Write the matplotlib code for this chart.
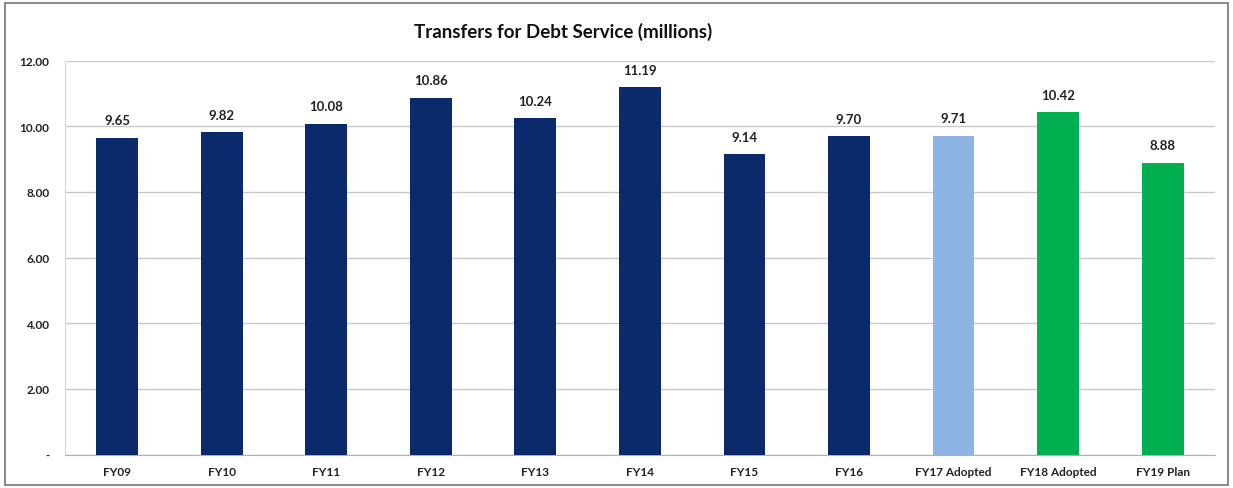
import matplotlib.pyplot as plt
import matplotlib as mpl
from matplotlib.patches import Rectangle

mpl.rcParams["font.family"] = ["Lato", "DejaVu Sans"]

# Debt service transfers by fiscal year
years = ["FY09", "FY10", "FY11", "FY12", "FY13", "FY14", "FY15", "FY16",
         "FY17 Adopted", "FY18 Adopted", "FY19 Plan"]
transfers = [9.65, 9.82, 10.08, 10.86, 10.24, 11.19, 9.14, 9.70, 9.71, 10.42, 8.88]

navy = "#0b2a6c"
light_blue = "#8db4e2"
green = "#00b050"
colors = [navy] * 8 + [light_blue] + [green] * 2

fig = plt.figure(figsize=(12.33, 4.89), dpi=100)
ax = fig.add_axes([0.0525, 0.0685, 0.9329, 0.8057])

x = range(len(years))
bars = ax.bar(x, transfers, width=0.4, color=colors, zorder=3)

for b, v in zip(bars, transfers):
    ax.text(b.get_x() + b.get_width() / 2, v + 0.35, f"{v:.2f}",
            ha="center", va="bottom", fontsize=9.5, fontweight="bold", color="#222222")

ax.set_xlim(-0.5, len(years) - 0.5)
ax.set_ylim(0, 12)
ax.set_yticks([0, 2, 4, 6, 8, 10, 12])
ax.set_yticklabels(["-", "2.00", "4.00", "6.00", "8.00", "10.00", "12.00"])
ax.set_xticks(list(x))
ax.set_xticklabels(years)
for lbl in ax.get_xticklabels() + ax.get_yticklabels():
    lbl.set_fontweight("bold")
    lbl.set_fontsize(8.5)
    lbl.set_color("#222222")

ax.tick_params(axis="x", length=0, pad=8)
ax.tick_params(axis="y", length=0, pad=11)
ax.grid(axis="y", color="#c8c8c8", linewidth=1, zorder=0)
for s in ["top", "right"]:
    ax.spines[s].set_visible(False)
ax.spines["left"].set_color("#d8d8d8")
ax.spines["bottom"].set_color("#b0b0b0")

fig.text(0.457, 0.935, "Transfers for Debt Service (millions)", ha="center", va="center",
         fontsize=13.5, fontweight="bold", color="#111111")

# chart frame
fig.patches.append(Rectangle((0.004, 0.006), 0.992, 0.986, transform=fig.transFigure,
                             fill=False, edgecolor="#8c8c8c", linewidth=1.5))

fig.savefig("out.png", dpi=100)
